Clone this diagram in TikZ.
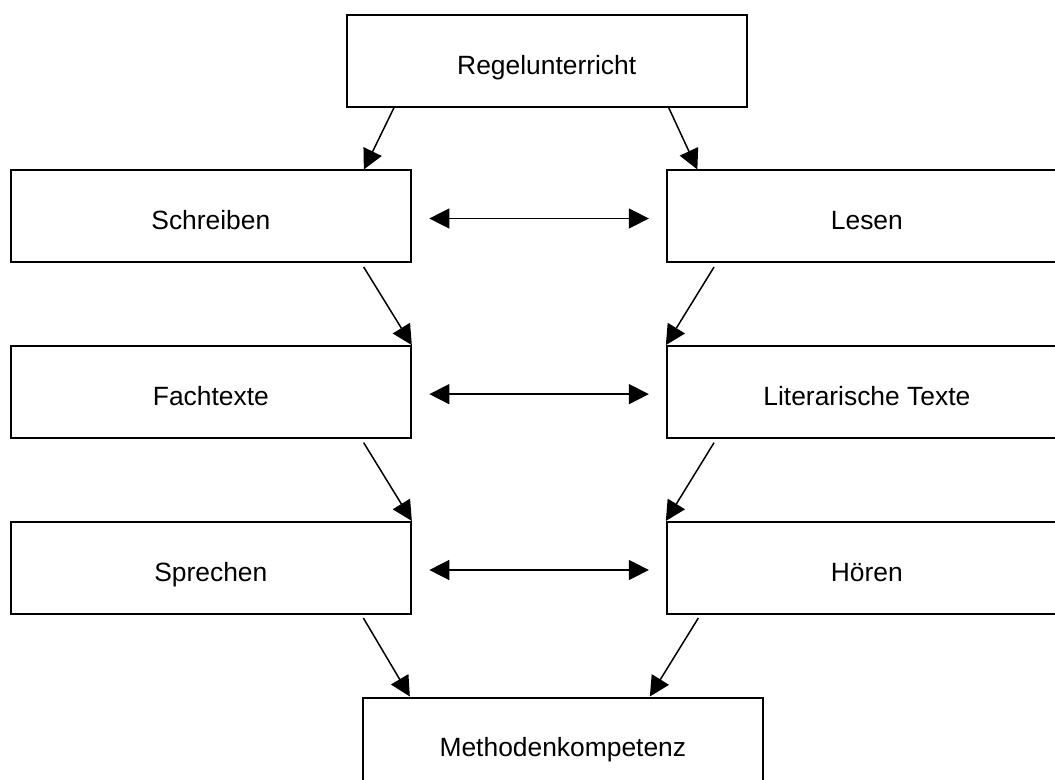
\documentclass[tikz,border=0pt]{standalone}
\usepackage{fontspec}
\setmainfont{Liberation Sans}
\usetikzlibrary{arrows.meta,calc}
\tikzset{
  box/.style={draw, line width=1pt, rectangle, minimum width=200pt, minimum height=46pt, inner sep=0pt, text height=13.4pt, text depth=0pt, font=\fontsize{13.2pt}{15pt}\selectfont},
  arr/.style={line width=0.75pt, -{Triangle[length=10pt,width=10pt]}},
  darr/.style={line width=0.75pt, {Triangle[length=10pt,width=10pt]}-{Triangle[length=10pt,width=10pt]}}
}
\begin{document}
\begin{tikzpicture}[x=0.5pt,y=-0.5pt]
\useasboundingbox (0,0) rectangle (1055,780);
\clip (0,0) rectangle (1055,780);
\fill[white] (0,0) rectangle (1055,780);
\node[box] (regel) at (546.7,60.7) {Regelunterricht};
\node[box] (schreiben) at (210.85,216.5) {Schreiben};
\node[box] (lesen) at (866.85,216.5) {Lesen};
\node[box] (fach) at (210.85,392.15) {Fachtexte};
\node[box] (lit) at (866.85,392.15) {Literarische Texte};
\node[box] (sprechen) at (210.85,568) {Sprechen};
\node[box] (hoeren) at (866.85,568) {Hören};
\node[box] (methoden) at (562.85,743.5) {Methodenkompetenz};
\draw[arr] ($(regel.south west)+(48.3,0)$) -- ($(schreiben.north east)+(-48,0)$);
\draw[arr] ($(regel.south east)+(-79,0)$) -- ($(lesen.north west)+(31.5,0)$);
\draw[arr] ($(schreiben.south east)+(-48.2,3.5)$) -- (fach.north east);
\draw[arr] ($(lesen.south west)+(48.2,3.5)$) -- (lit.north west);
\draw[arr] ($(fach.south east)+(-48.2,3.5)$) -- (sprechen.north east);
\draw[arr] ($(lit.south west)+(48.2,3.5)$) -- (hoeren.north west);
\draw[arr] ($(sprechen.south east)+(-48.5,3)$) -- ($(methoden.north west)+(48,0)$);
\draw[arr] ($(hoeren.south west)+(32.5,3)$) -- ($(methoden.north west)+(288,0)$);
\draw[darr] ($(schreiben.east)+(17.5,2)$) -- ($(lesen.west)+(-17,2)$);
\draw[darr] ($(fach.east)+(17.5,2)$) -- ($(lit.west)+(-17,2)$);
\draw[darr] ($(sprechen.east)+(17.5,2)$) -- ($(hoeren.west)+(-17,2)$);
\end{tikzpicture}
\end{document}
